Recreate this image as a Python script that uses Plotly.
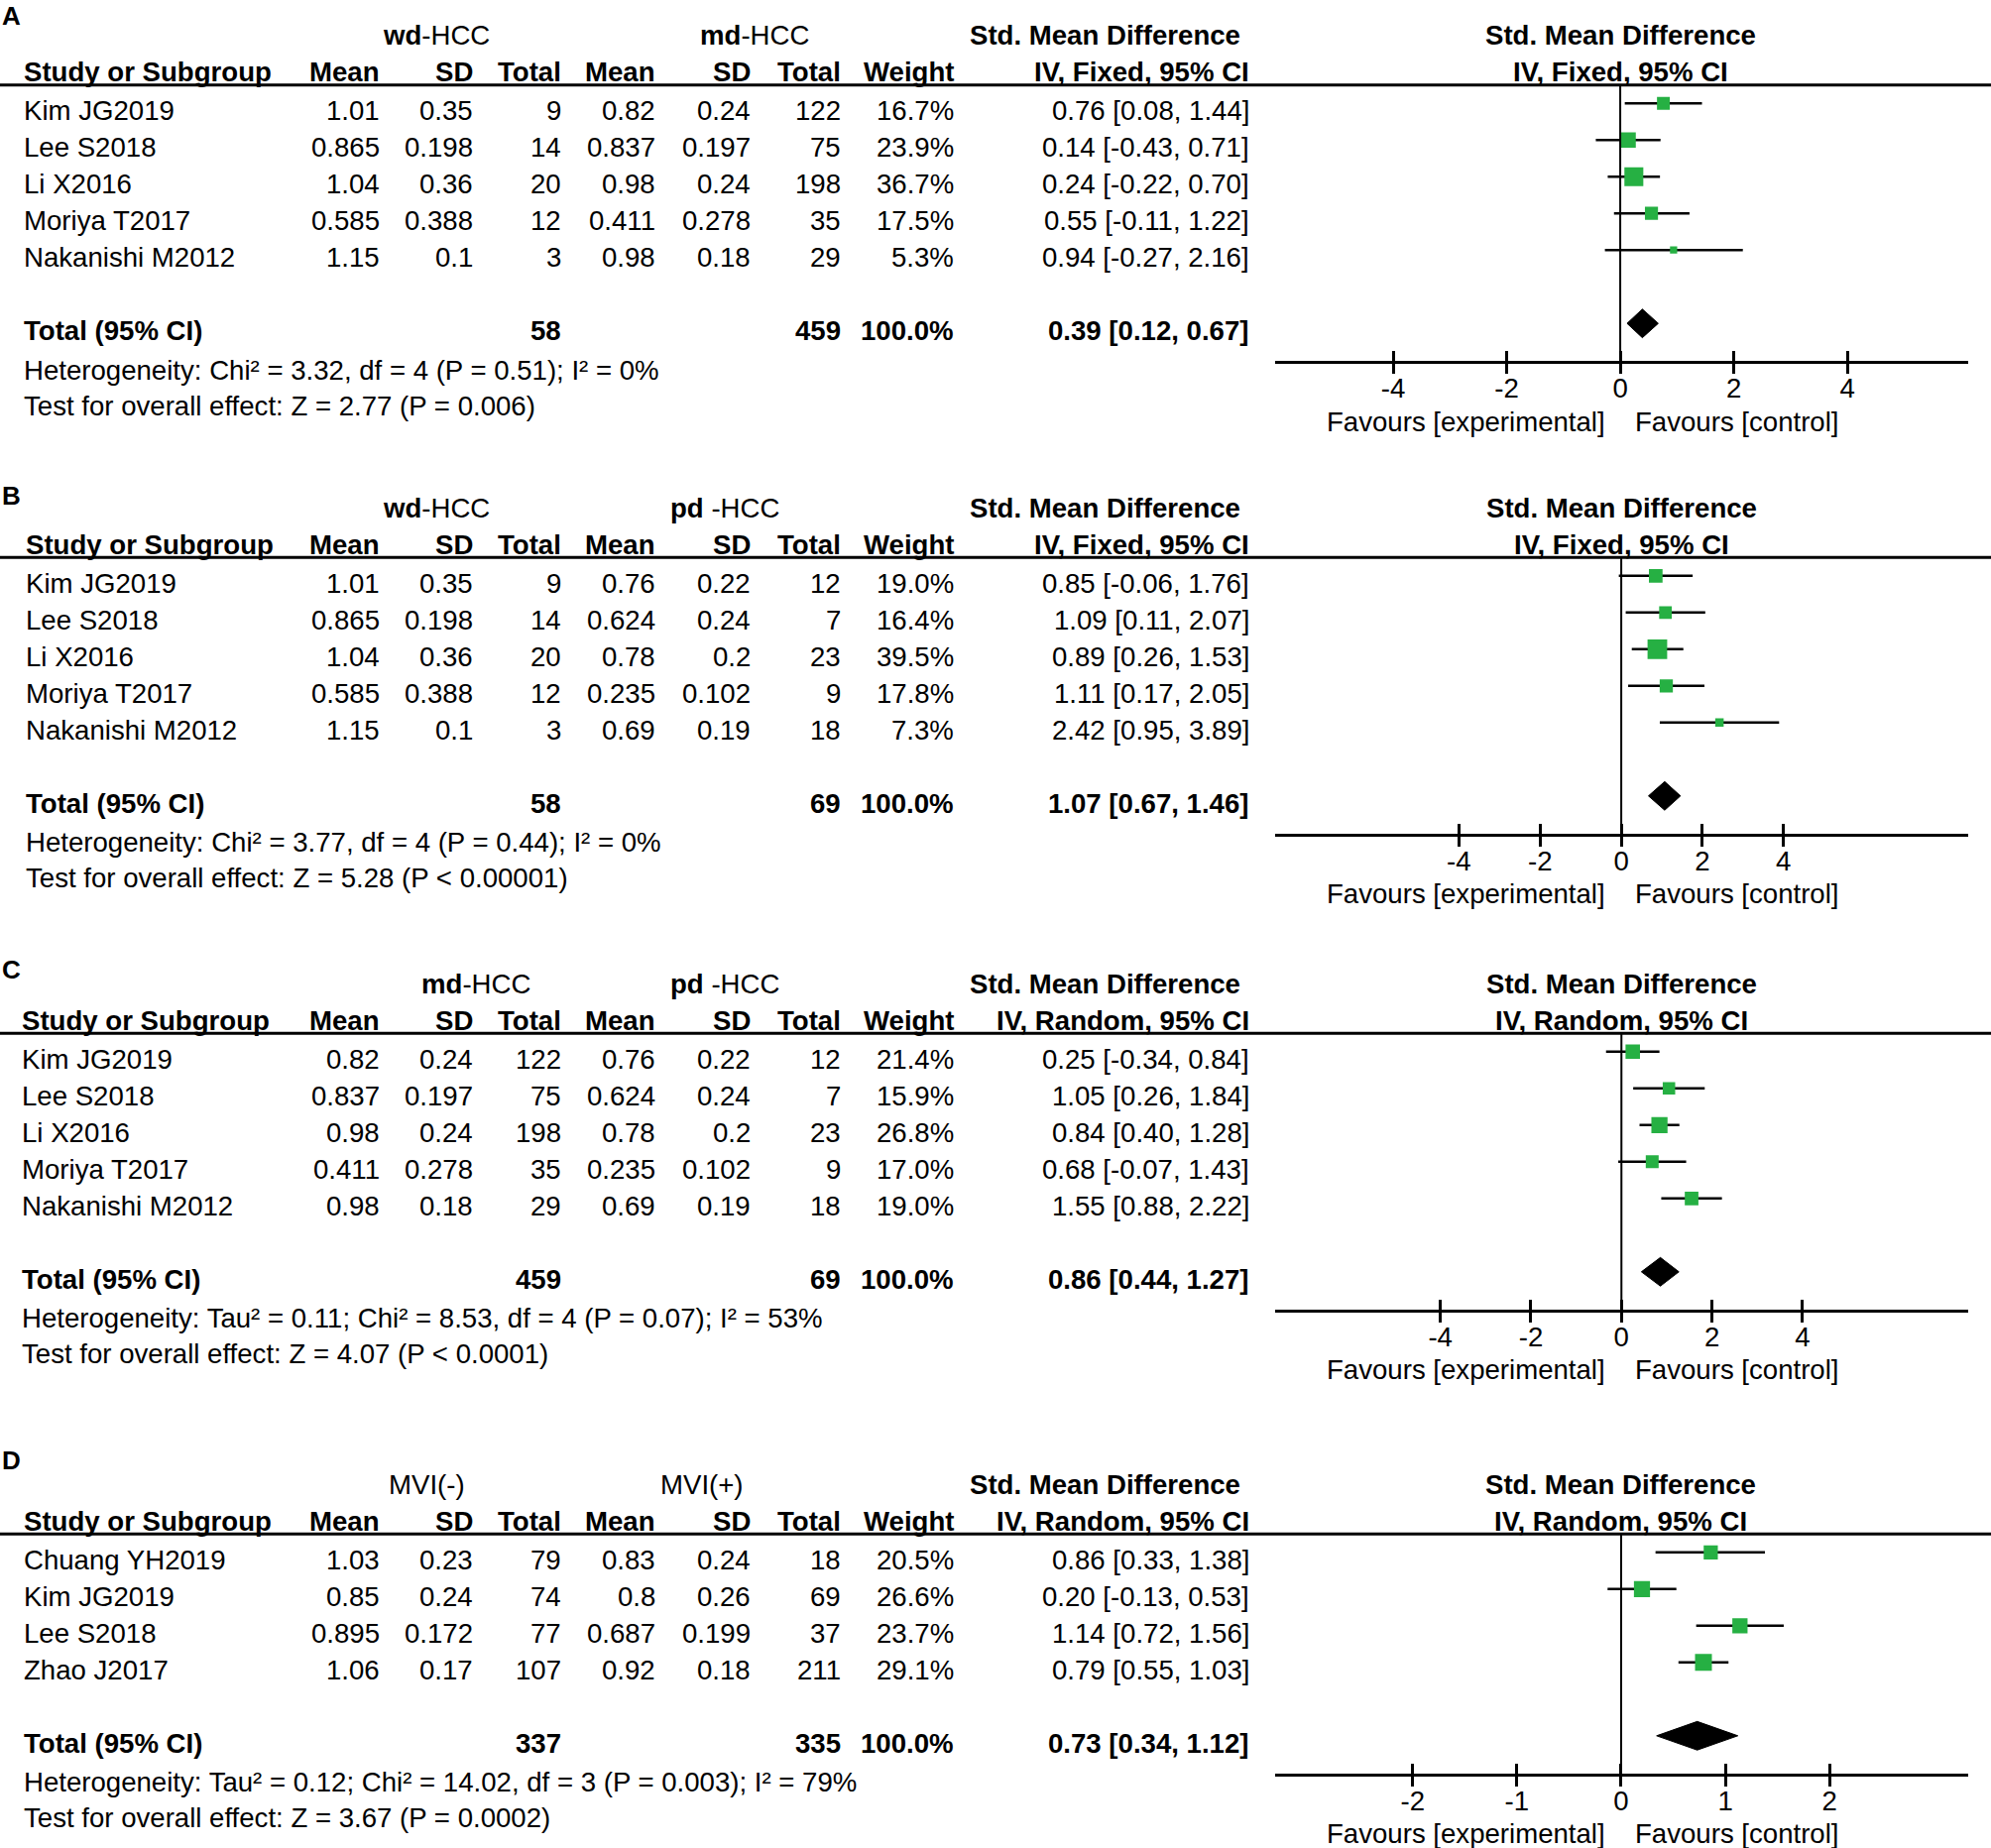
import math
import plotly.graph_objects as go

W, H = 2008, 1864
FONT = "Liberation Sans, Arial, Helvetica, sans-serif"
FS = 27.6
GREEN = "#26b043"

# ---------------- data ----------------
# Panel A : wd-HCC vs md-HCC
A_STUDY = ["Kim JG2019", "Lee S2018", "Li X2016", "Moriya T2017", "Nakanishi M2012"]
A_MEAN_E = [1.01, 0.865, 1.04, 0.585, 1.15]
A_SD_E = [0.35, 0.198, 0.36, 0.388, 0.1]
A_N_E = [9, 14, 20, 12, 3]
A_MEAN_C = [0.82, 0.837, 0.98, 0.411, 0.98]
A_SD_C = [0.24, 0.197, 0.24, 0.278, 0.18]
A_N_C = [122, 75, 198, 35, 29]
A_WEIGHT = [16.7, 23.9, 36.7, 17.5, 5.3]
A_SMD = [0.76, 0.14, 0.24, 0.55, 0.94]
A_LO = [0.08, -0.43, -0.22, -0.11, -0.27]
A_HI = [1.44, 0.71, 0.70, 1.22, 2.16]
A_TOT_N = [58, 459]
A_TOT_W = 100.0
A_TOT_SMD = [0.39, 0.12, 0.67]
A_HET = "Heterogeneity: Chi\u00b2 = 3.32, df = 4 (P = 0.51); I\u00b2 = 0%"
A_TEST = "Test for overall effect: Z = 2.77 (P = 0.006)"

# Panel B : wd-HCC vs pd-HCC
B_STUDY = ["Kim JG2019", "Lee S2018", "Li X2016", "Moriya T2017", "Nakanishi M2012"]
B_MEAN_E = [1.01, 0.865, 1.04, 0.585, 1.15]
B_SD_E = [0.35, 0.198, 0.36, 0.388, 0.1]
B_N_E = [9, 14, 20, 12, 3]
B_MEAN_C = [0.76, 0.624, 0.78, 0.235, 0.69]
B_SD_C = [0.22, 0.24, 0.2, 0.102, 0.19]
B_N_C = [12, 7, 23, 9, 18]
B_WEIGHT = [19.0, 16.4, 39.5, 17.8, 7.3]
B_SMD = [0.85, 1.09, 0.89, 1.11, 2.42]
B_LO = [-0.06, 0.11, 0.26, 0.17, 0.95]
B_HI = [1.76, 2.07, 1.53, 2.05, 3.89]
B_TOT_N = [58, 69]
B_TOT_W = 100.0
B_TOT_SMD = [1.07, 0.67, 1.46]
B_HET = "Heterogeneity: Chi\u00b2 = 3.77, df = 4 (P = 0.44); I\u00b2 = 0%"
B_TEST = "Test for overall effect: Z = 5.28 (P < 0.00001)"

# Panel C : md-HCC vs pd-HCC
C_STUDY = ["Kim JG2019", "Lee S2018", "Li X2016", "Moriya T2017", "Nakanishi M2012"]
C_MEAN_E = [0.82, 0.837, 0.98, 0.411, 0.98]
C_SD_E = [0.24, 0.197, 0.24, 0.278, 0.18]
C_N_E = [122, 75, 198, 35, 29]
C_MEAN_C = [0.76, 0.624, 0.78, 0.235, 0.69]
C_SD_C = [0.22, 0.24, 0.2, 0.102, 0.19]
C_N_C = [12, 7, 23, 9, 18]
C_WEIGHT = [21.4, 15.9, 26.8, 17.0, 19.0]
C_SMD = [0.25, 1.05, 0.84, 0.68, 1.55]
C_LO = [-0.34, 0.26, 0.40, -0.07, 0.88]
C_HI = [0.84, 1.84, 1.28, 1.43, 2.22]
C_TOT_N = [459, 69]
C_TOT_W = 100.0
C_TOT_SMD = [0.86, 0.44, 1.27]
C_HET = "Heterogeneity: Tau\u00b2 = 0.11; Chi\u00b2 = 8.53, df = 4 (P = 0.07); I\u00b2 = 53%"
C_TEST = "Test for overall effect: Z = 4.07 (P < 0.0001)"

# Panel D : MVI(-) vs MVI(+)
D_STUDY = ["Chuang YH2019", "Kim JG2019", "Lee S2018", "Zhao J2017"]
D_MEAN_E = [1.03, 0.85, 0.895, 1.06]
D_SD_E = [0.23, 0.24, 0.172, 0.17]
D_N_E = [79, 74, 77, 107]
D_MEAN_C = [0.83, 0.8, 0.687, 0.92]
D_SD_C = [0.24, 0.26, 0.199, 0.18]
D_N_C = [18, 69, 37, 211]
D_WEIGHT = [20.5, 26.6, 23.7, 29.1]
D_SMD = [0.86, 0.20, 1.14, 0.79]
D_LO = [0.33, -0.13, 0.72, 0.55]
D_HI = [1.38, 0.53, 1.56, 1.03]
D_TOT_N = [337, 335]
D_TOT_W = 100.0
D_TOT_SMD = [0.73, 0.34, 1.12]
D_HET = "Heterogeneity: Tau\u00b2 = 0.12; Chi\u00b2 = 14.02, df = 3 (P = 0.003); I\u00b2 = 79%"
D_TEST = "Test for overall effect: Z = 3.67 (P = 0.0002)"

PANEL_LABELS = ["A", "B", "C", "D"]
GROUP_E = ["<b>wd</b>-HCC", "<b>wd</b>-HCC", "<b>md</b>-HCC", "MVI(-)"]
GROUP_C = ["<b>md</b>-HCC", "<b>pd</b> -HCC", "<b>pd</b> -HCC", "MVI(+)"]
METHOD = ["IV, Fixed, 95% CI", "IV, Fixed, 95% CI", "IV, Random, 95% CI", "IV, Random, 95% CI"]
COL_HEADERS = ["Mean", "SD", "Total", "Mean", "SD", "Total", "Weight"]
X_TICKS = [[-4, -2, 0, 2, 4], [-4, -2, 0, 2, 4], [-4, -2, 0, 2, 4], [-2, -1, 0, 1, 2]]
FAV_LEFT = "Favours [experimental]"
FAV_RIGHT = "Favours [control]"

PANELS = [
    dict(study=A_STUDY, me=A_MEAN_E, se=A_SD_E, ne=A_N_E, mc=A_MEAN_C, sc=A_SD_C, nc=A_N_C, w=A_WEIGHT,
         smd=A_SMD, lo=A_LO, hi=A_HI, totn=A_TOT_N, totw=A_TOT_W, tot=A_TOT_SMD, het=A_HET, test=A_TEST),
    dict(study=B_STUDY, me=B_MEAN_E, se=B_SD_E, ne=B_N_E, mc=B_MEAN_C, sc=B_SD_C, nc=B_N_C, w=B_WEIGHT,
         smd=B_SMD, lo=B_LO, hi=B_HI, totn=B_TOT_N, totw=B_TOT_W, tot=B_TOT_SMD, het=B_HET, test=B_TEST),
    dict(study=C_STUDY, me=C_MEAN_E, se=C_SD_E, ne=C_N_E, mc=C_MEAN_C, sc=C_SD_C, nc=C_N_C, w=C_WEIGHT,
         smd=C_SMD, lo=C_LO, hi=C_HI, totn=C_TOT_N, totw=C_TOT_W, tot=C_TOT_SMD, het=C_HET, test=C_TEST),
    dict(study=D_STUDY, me=D_MEAN_E, se=D_SD_E, ne=D_N_E, mc=D_MEAN_C, sc=D_SD_C, nc=D_N_C, w=D_WEIGHT,
         smd=D_SMD, lo=D_LO, hi=D_HI, totn=D_TOT_N, totw=D_TOT_W, tot=D_TOT_SMD, het=D_HET, test=D_TEST),
]

# ---------------- layout (pixels) ----------------
ROW = 37.0
R_TEXT = [111.7, 588.3, 1068.3, 1573.3]
LABEL_Y = [15.7, 500.0, 978.3, 1473.3]
NAME_X = [22, 24, 20, 22]
GE_X = [440, 440, 480, 430]
GC_X = [761, 731, 731, 708]
X_RANGE = [[-6.08, 6.13], [-8.53, 8.55], [-7.65, 7.66], [-3.32, 3.33]]
COL_RIGHT = [385, 479, 568, 663, 759, 850, 964]
CI_RIGHT = 1262
SMD_HDR_X = 1114
FX0, FX1 = 1286, 1985
EXP_RIGHT, CTRL_LEFT = 1621, 1647
MARK_OFF = -7.5
SQ_K = 3.15


def axid(prefix, num):
    return prefix if num == 1 else f"{prefix}{num}"


def fmt(v):
    return f"{v:g}"


annotations = []
shapes = []
fig = go.Figure()


def ann(text, x, y, xanchor="left", bold=False, size=FS, xref="paper"):
    annotations.append(dict(
        text=(f"<b>{text}</b>" if bold else text), x=(x / W if xref == "paper" else x), y=1 - y / H,
        xref=xref, yref="paper", xanchor=xanchor, yanchor="middle", showarrow=False,
        font=dict(family=FONT, size=size, color="black")))


layout_axes = {}
for k, p in enumerate(PANELS):
    R = R_TEXT[k]
    n = len(p["study"])
    xa = axid("x", k + 1)
    ya = axid("y", k + 1)
    xo = axid("x", k + 5)
    total_y = R + (n + 1) * ROW
    axis_y = total_y + 30.5
    top_y = R - 26

    # panel label & headers
    ann(PANEL_LABELS[k], 0, LABEL_Y[k], bold=True, size=26)
    ann(GROUP_E[k], GE_X[k], R - 76, xanchor="center")
    ann(GROUP_C[k], GC_X[k], R - 76, xanchor="center")
    ann("Std. Mean Difference", SMD_HDR_X, R - 76, xanchor="center", bold=True)
    ann("Std. Mean Difference", 0, R - 76, xanchor="center", bold=True, xref=xa)
    ann("Study or Subgroup", NAME_X[k], R - 39, bold=True)
    for h, cx in zip(COL_HEADERS, COL_RIGHT):
        ann(h, cx, R - 39, xanchor="right", bold=True)
    ann(METHOD[k], CI_RIGHT, R - 39, xanchor="right", bold=True)
    ann(METHOD[k], 0, R - 39, xanchor="center", bold=True, xref=xa)

    # study rows
    for i in range(n):
        y = R + i * ROW
        ann(p["study"][i], NAME_X[k], y)
        vals = [fmt(p["me"][i]), fmt(p["se"][i]), str(p["ne"][i]),
                fmt(p["mc"][i]), fmt(p["sc"][i]), str(p["nc"][i]), f"{p['w'][i]:.1f}%"]
        for v, cx in zip(vals, COL_RIGHT):
            ann(v, cx, y, xanchor="right")
        ann(f"{p['smd'][i]:.2f} [{p['lo'][i]:.2f}, {p['hi'][i]:.2f}]", CI_RIGHT, y, xanchor="right")

    # total rows
    ann("Total (95% CI)", NAME_X[k], total_y, bold=True)
    ann(str(p["totn"][0]), COL_RIGHT[2], total_y, xanchor="right", bold=True)
    ann(str(p["totn"][1]), COL_RIGHT[5], total_y, xanchor="right", bold=True)
    ann(f"{p['totw']:.1f}%", COL_RIGHT[6], total_y, xanchor="right", bold=True)
    t = p["tot"]
    ann(f"{t[0]:.2f} [{t[1]:.2f}, {t[2]:.2f}]", CI_RIGHT, total_y, xanchor="right", bold=True)
    ann(p["het"], NAME_X[k], total_y + 39.5)
    ann(p["test"], NAME_X[k], total_y + 39.5 + 36)

    # favours
    ann(FAV_LEFT, EXP_RIGHT, axis_y + 61, xanchor="right")
    ann(FAV_RIGHT, CTRL_LEFT, axis_y + 61, xanchor="left")

    # header rule
    shapes.append(dict(type="line", xref="paper", yref="paper", x0=0, x1=1,
                       y0=1 - top_y / H, y1=1 - top_y / H,
                       line=dict(color="black", width=3)))
    # zero line
    shapes.append(dict(type="line", xref=xa, yref=f"{ya} domain", x0=0, x1=0, y0=0, y1=1,
                       line=dict(color="black", width=2)))

    # forest axes: row index units; marker row i at pixel R + MARK_OFF + i*ROW
    r_top = (top_y - (R + MARK_OFF)) / ROW
    r_bot = (axis_y - (R + MARK_OFF)) / ROW
    dom = [1 - axis_y / H, 1 - top_y / H]
    layout_axes[axid("yaxis", k + 1)] = dict(domain=dom, range=[r_bot, r_top], visible=False,
                                             anchor=xa, fixedrange=True)
    tick_common = dict(tickvals=X_TICKS[k], ticktext=[str(v) for v in X_TICKS[k]],
                       showgrid=False, zeroline=False, tickcolor="black", tickwidth=2.5,
                       ticklen=10, range=X_RANGE[k])
    layout_axes[axid("xaxis", k + 1)] = dict(domain=[FX0 / W, FX1 / W], anchor=ya, showline=True,
                                             linecolor="black", linewidth=3, ticks="outside",
                                             ticklabelstandoff=-9,
                                             tickfont=dict(family=FONT, size=FS, color="black"),
                                             **tick_common)
    layout_axes[axid("xaxis", k + 5)] = dict(overlaying=xa, anchor=ya, ticks="inside",
                                             showticklabels=False, showline=False, **tick_common)

    # confidence interval lines
    ci_x, ci_y = [], []
    for i in range(n):
        ci_x += [p["lo"][i], p["hi"][i], None]
        ci_y += [i, i, None]
    fig.add_trace(go.Scatter(x=ci_x, y=ci_y, mode="lines", line=dict(color="black", width=2.5),
                             xaxis=xa, yaxis=ya, hoverinfo="skip"))
    # weight squares
    fig.add_trace(go.Scatter(
        x=p["smd"], y=list(range(n)), mode="markers", xaxis=xa, yaxis=ya, hoverinfo="skip",
        marker=dict(symbol="square", color=GREEN, opacity=1, size=[SQ_K * math.sqrt(w) for w in p["w"]],
                    line=dict(width=0))))
    # pooled diamond
    dh = 0.39
    fig.add_trace(go.Scatter(
        x=[t[1], t[0], t[2], t[0], t[1]], y=[n + 1, n + 1 - dh, n + 1, n + 1 + dh, n + 1],
        mode="lines", fill="toself", fillcolor="black", line=dict(color="black", width=1),
        xaxis=xo, yaxis=ya, hoverinfo="skip"))

fig.update_layout(
    width=W, height=H, margin=dict(l=0, r=0, t=0, b=0),
    paper_bgcolor="white", plot_bgcolor="white", showlegend=False,
    annotations=annotations, shapes=shapes, **layout_axes)

fig.write_html("out.html", config={"displayModeBar": False},
               post_script="document.body.style.margin='0px';")
